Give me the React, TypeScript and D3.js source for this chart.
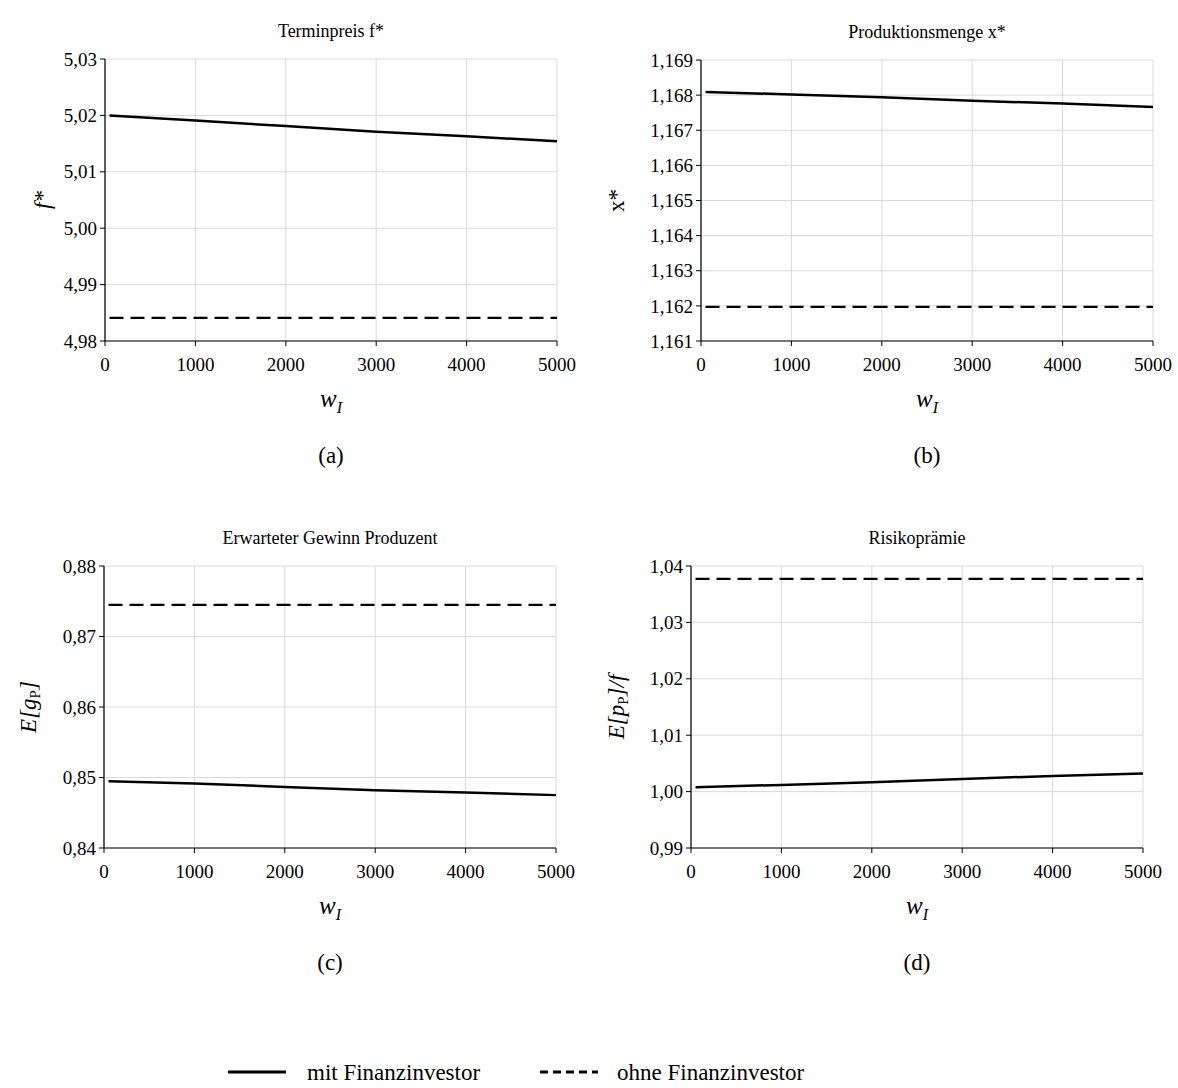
import React from 'react'
import * as d3 from 'd3'

// w_I values where the curves were read
const wValues = [50, 1000, 2000, 3000, 4000, 5000]
const xTicks = [0, 1000, 2000, 3000, 4000, 5000]

// (a) Terminpreis f*
const fMit = [5.02, 5.0191, 5.0181, 5.0171, 5.0163, 5.0154]
const fOhne = [4.9841, 4.9841, 4.9841, 4.9841, 4.9841, 4.9841]
const fTicks = [4.98, 4.99, 5.0, 5.01, 5.02, 5.03]

// (b) Produktionsmenge x*
const xMit = [1.16809, 1.16802, 1.16794, 1.16784, 1.16776, 1.16766]
const xOhne = [1.16197, 1.16197, 1.16197, 1.16197, 1.16197, 1.16197]
const xStarTicks = [1.161, 1.162, 1.163, 1.164, 1.165, 1.166, 1.167, 1.168, 1.169]

// (c) Erwarteter Gewinn Produzent
const gMit = [0.84948, 0.84915, 0.84867, 0.8482, 0.84787, 0.8475]
const gOhne = [0.8745, 0.8745, 0.8745, 0.8745, 0.8745, 0.8745]
const gTicks = [0.84, 0.85, 0.86, 0.87, 0.88]

// (d) Risikoprämie
const rMit = [1.00078, 1.00119, 1.00167, 1.00225, 1.00278, 1.00319]
const rOhne = [1.0377, 1.0377, 1.0377, 1.0377, 1.0377, 1.0377]
const rTicks = [0.99, 1.0, 1.01, 1.02, 1.03, 1.04]

const legendLabels = ['mit Finanzinvestor', 'ohne Finanzinvestor']

const de = d3.formatLocale({ decimal: ',', thousands: '.', grouping: [3], currency: ['', ' €'] })

const FONT = '"Liberation Serif", "Times New Roman", serif'

interface PanelProps {
  left: number
  right: number
  top: number
  bottom: number
  title: string
  yTicks: number[]
  digits: number
  mit: number[]
  ohne: number[]
  yLabel: React.ReactNode
  yLabelX: number
  tag: string
}

const Panel: React.FC<PanelProps> = ({ left, right, top, bottom, title, yTicks, digits, mit, ohne, yLabel, yLabelX, tag }) => {
  const x = d3.scaleLinear().domain([0, 5000]).range([left, right])
  const y = d3.scaleLinear().domain([yTicks[0], yTicks[yTicks.length - 1]]).range([bottom, top])
  const fmt = de.format(`.${digits}f`)
  const line = d3.line<number>()
    .x((_, i) => x(wValues[i]))
    .y(d => y(d))
  const cx = (left + right) / 2
  const cy = (top + bottom) / 2

  return (
    <g>
      <text x={cx} y={top - 22} textAnchor="middle" fontSize={18} fontFamily={FONT}>{title}</text>
      {/* grid */}
      {xTicks.map(t => (
        <line key={'gx' + t} x1={x(t)} x2={x(t)} y1={top} y2={bottom} stroke="#d9d9d9" strokeWidth={1} />
      ))}
      {yTicks.map(t => (
        <line key={'gy' + t} x1={left} x2={right} y1={y(t)} y2={y(t)} stroke="#d9d9d9" strokeWidth={1} />
      ))}
      {/* axes */}
      <line x1={left} x2={left} y1={top} y2={bottom} stroke="#000" strokeWidth={1.2} />
      <line x1={left} x2={right} y1={bottom} y2={bottom} stroke="#000" strokeWidth={1.2} />
      {yTicks.map(t => (
        <g key={'ty' + t}>
          <line x1={left - 5} x2={left} y1={y(t)} y2={y(t)} stroke="#000" />
          <text x={left - 8} y={y(t)} dy="0.35em" textAnchor="end" fontSize={19} fontFamily={FONT}>{fmt(t)}</text>
        </g>
      ))}
      {xTicks.map(t => (
        <g key={'tx' + t}>
          <line x1={x(t)} x2={x(t)} y1={bottom} y2={bottom + 5} stroke="#000" />
          <text x={x(t)} y={bottom + 30} textAnchor="middle" fontSize={19} fontFamily={FONT}>{t}</text>
        </g>
      ))}
      {/* series */}
      <path d={line(ohne) || ''} fill="none" stroke="#000" strokeWidth={2.2} strokeDasharray="14,7" />
      <path d={line(mit) || ''} fill="none" stroke="#000" strokeWidth={2.5} />
      {/* axis titles */}
      <text transform={`translate(${yLabelX},${cy}) rotate(-90)`} textAnchor="middle" fontSize={23} fontFamily={FONT}>{yLabel}</text>
      <text x={cx} y={bottom + 66} textAnchor="middle" fontSize={25} fontFamily={FONT} fontStyle="italic">
        w<tspan fontSize={16} dy={6}>I</tspan>
      </text>
      <text x={cx} y={bottom + 122} textAnchor="middle" fontSize={23} fontFamily={FONT}>{tag}</text>
    </g>
  )
}

const App: React.FC = () => {
  return (
    <div style={{ position: 'absolute', left: 0, top: 0 }}>
      <svg width={1178} height={1088} style={{ display: 'block', background: '#fff' }}>
        <Panel left={105} right={557} top={59} bottom={341} title="Terminpreis f*" yTicks={fTicks} digits={2}
          mit={fMit} ohne={fOhne} yLabelX={50} tag="(a)"
          yLabel={<tspan fontStyle="italic">f*</tspan>} />
        <Panel left={701} right={1153} top={60} bottom={341} title="Produktionsmenge x*" yTicks={xStarTicks} digits={3}
          mit={xMit} ohne={xOhne} yLabelX={624} tag="(b)"
          yLabel="x*" />
        <Panel left={104} right={556} top={566} bottom={848} title="Erwarteter Gewinn Produzent" yTicks={gTicks} digits={2}
          mit={gMit} ohne={gOhne} yLabelX={36} tag="(c)"
          yLabel={<tspan fontStyle="italic">E[g<tspan fontSize={15} dy={4} fontStyle="normal">P</tspan><tspan dy={-4}>]</tspan></tspan>} />
        <Panel left={691} right={1143} top={566} bottom={848} title="Risikoprämie" yTicks={rTicks} digits={2}
          mit={rMit} ohne={rOhne} yLabelX={624} tag="(d)"
          yLabel={<tspan fontStyle="italic">E[p<tspan fontSize={15} dy={4} fontStyle="normal">P</tspan><tspan dy={-4}>]/f</tspan></tspan>} />
        {/* legend */}
        <g fontFamily={FONT} fontSize={23}>
          <line x1={228} x2={286} y1={1072} y2={1072} stroke="#000" strokeWidth={3} />
          <text x={307} y={1080}>{legendLabels[0]}</text>
          <line x1={540} x2={598} y1={1072} y2={1072} stroke="#000" strokeWidth={3} strokeDasharray="8,5" />
          <text x={617} y={1080}>{legendLabels[1]}</text>
        </g>
      </svg>
    </div>
  )
}

export default App
